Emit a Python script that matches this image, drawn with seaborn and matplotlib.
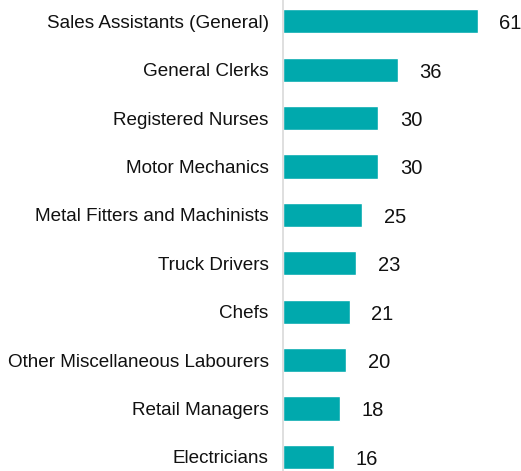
import seaborn as sns
import pandas as pd
from matplotlib import pyplot as plt

occupations = ["Sales Assistants (General)", "General Clerks", "Registered Nurses",
               "Motor Mechanics", "Metal Fitters and Machinists", "Truck Drivers",
               "Chefs", "Other Miscellaneous Labourers", "Retail Managers", "Electricians"]
counts = [61, 36, 30, 30, 25, 23, 21, 20, 18, 16]

df = pd.DataFrame({"occupation": occupations, "count": counts})

sns.set_style("white")
plt.rcParams['font.family'] = ['Liberation Sans', 'DejaVu Sans']

fig = plt.figure(figsize=(5.21, 4.71), dpi=100)
ax = fig.add_axes([282.5 / 521, 0, 1 - 282.5 / 521, 1])

sns.barplot(data=df, x="count", y="occupation", color="#00A9AD", saturation=1,
            width=0.5, ax=ax)

for i, v in enumerate(counts):
    ax.text(v + 6.8, i + 0.05, str(v), va="center", ha="left", fontsize=14.5, color="#111111")

ax.set_xlim(0, 74.6)
ax.set_ylim(9.29, -0.44)
ax.set_xlabel("")
ax.set_ylabel("")
ax.set_xticks([])
ax.tick_params(axis="y", length=0, pad=10, labelsize=13.6, labelcolor="#111111")
for s in ["top", "right", "bottom"]:
    ax.spines[s].set_visible(False)
ax.spines["left"].set_color("#D9D9D9")
ax.spines["left"].set_linewidth(1.2)

fig.savefig("out.png", dpi=100)
